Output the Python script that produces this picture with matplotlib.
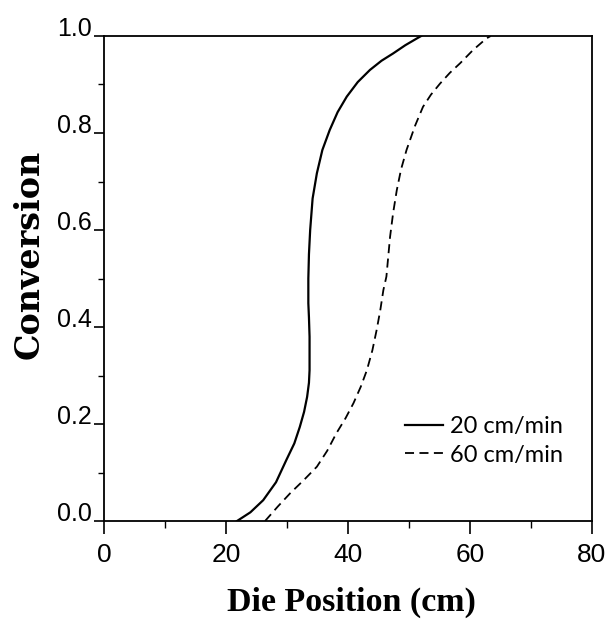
import matplotlib
matplotlib.use("Agg")
import matplotlib.pyplot as plt
from matplotlib.ticker import MultipleLocator

# curves
pos_20 = [21.8, 24.0, 26.1, 28.2, 29.9, 31.2, 32.1, 32.8, 33.3, 33.6, 33.7, 33.7, 33.6, 33.5, 33.5, 33.6, 33.8, 34.2, 34.9, 35.8, 37.0, 38.3, 39.8, 41.6, 43.6, 45.5, 47.4, 49.4, 51.3, 52.0]
conv_20 = [0.0, 0.018, 0.043, 0.080, 0.126, 0.160, 0.194, 0.225, 0.256, 0.285, 0.311, 0.380, 0.420, 0.449, 0.500, 0.550, 0.600, 0.665, 0.717, 0.765, 0.806, 0.843, 0.875, 0.905, 0.930, 0.949, 0.964, 0.981, 0.995, 1.0]

pos_60 = [26.4, 28.5, 30.5, 32.8, 34.9, 36.6, 38.1, 39.6, 40.9, 42.1, 43.1, 44.0, 44.7, 45.3, 45.8, 46.3, 46.6, 46.9, 47.4, 48.0, 48.7, 49.6, 51.0, 52.3, 53.6, 55.1, 56.7, 58.4, 60.5, 62.7, 63.4]
conv_60 = [0.0, 0.030, 0.057, 0.085, 0.112, 0.145, 0.181, 0.212, 0.243, 0.277, 0.311, 0.352, 0.394, 0.435, 0.476, 0.504, 0.545, 0.586, 0.635, 0.682, 0.725, 0.765, 0.815, 0.854, 0.879, 0.902, 0.924, 0.944, 0.971, 0.995, 1.0]

labels = ["20 cm/min", "60 cm/min"]
xticks = [0, 20, 40, 60, 80]
yticks = [0.0, 0.2, 0.4, 0.6, 0.8, 1.0]

tick_font = "Liberation Sans"

fig = plt.figure(figsize=(6.09, 6.27), dpi=100)
ax = fig.add_axes([0.1708, 0.169, 0.8012, 0.7736])

ax.plot(pos_20, conv_20, "k-", lw=1.6, label=labels[0])
ax.plot(pos_60, conv_60, "k--", lw=1.3, dashes=(5, 3), label=labels[1])

ax.set_xlim(0, 80)
ax.set_ylim(0, 1.0)
ax.set_xticks(xticks)
ax.set_yticks(yticks)
ax.set_xticklabels([str(v) for v in xticks], fontsize=19, family=tick_font)
ax.set_yticklabels(["%.1f" % v for v in yticks], fontsize=18, va="baseline", family=tick_font)
ax.xaxis.set_minor_locator(MultipleLocator(10))
ax.yaxis.set_minor_locator(MultipleLocator(0.1))
ax.tick_params(axis="x", which="major", direction="out", length=9, width=1.2, pad=7)
ax.tick_params(axis="x", which="minor", direction="out", length=5, width=1.0)
ax.tick_params(axis="y", which="major", direction="out", length=7, width=1.2, pad=2)
ax.tick_params(axis="y", which="minor", direction="out", length=4, width=1.0)
for s in ax.spines.values():
    s.set_linewidth(1.3)

ax.set_xlabel("Die Position (cm)", family="Liberation Serif", weight="bold", fontsize=24.5)
ax.xaxis.set_label_coords(0.508, -0.135)
fig.text(29 / 609, 0.595, "Conversion", family="DejaVu Serif", weight="bold",
         fontsize=24, rotation=90, ha="center", va="center")

ax.legend(loc="lower right", bbox_to_anchor=(0.965, 0.09), frameon=False,
          prop={"family": "Lato", "size": 17}, handlelength=1.6, handletextpad=0.3,
          labelspacing=0.3, borderpad=0)

fig.savefig("out.png", dpi=100)
